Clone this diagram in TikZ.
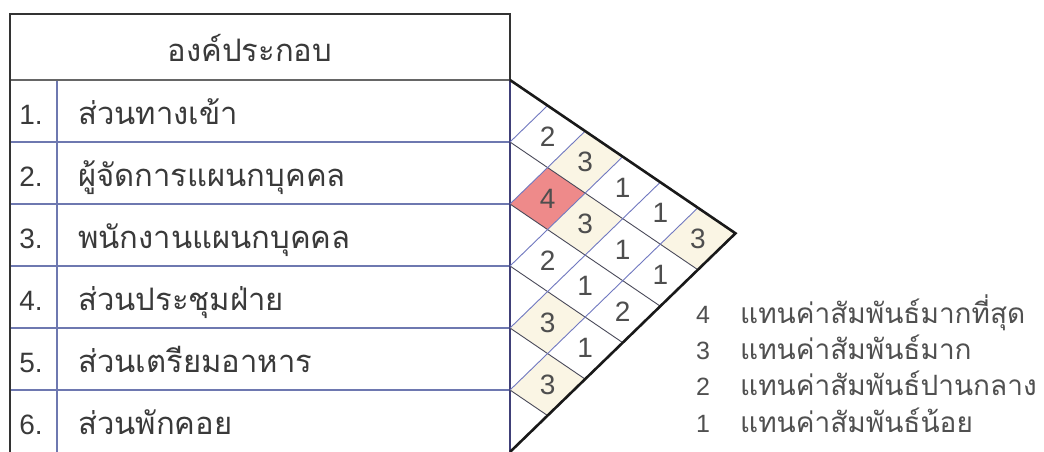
\documentclass[tikz,border=0pt]{standalone}
\usepackage{fontspec}
\setmainfont{Liberation Sans}
\newfontfamily\thaifont[Script=Thai]{Loma}
\usetikzlibrary{calc}
\definecolor{txtgray}{HTML}{3A3A3A}
\definecolor{leggray}{HTML}{505050}
\definecolor{rowblue}{HTML}{6E78B0}
\definecolor{navy}{HTML}{404078}
\definecolor{dgrid}{HTML}{4A4A5A}
\definecolor{ugrid}{HTML}{7078C0}
\definecolor{cream}{HTML}{FAF5E4}
\definecolor{redcell}{HTML}{EE8A8A}
\begin{document}
\begin{tikzpicture}[x=1pt,y=-1pt,
  outer/.style={draw=black!80,line width=2.6pt},
  rowline/.style={draw=rowblue,line width=1.1pt},
  hdrline/.style={draw=black!60,line width=1.4pt},
  tabtxt/.style={font=\thaifont\fontsize{31}{34}\selectfont,text=txtgray,inner sep=0pt,anchor=base west},
  numtxt/.style={font=\fontsize{28}{32}\selectfont,text=txtgray,inner sep=0pt,anchor=base},
  celltxt/.style={font=\fontsize{28}{30}\selectfont,text=txtgray!90,inner sep=0pt,anchor=center},
  legnum/.style={font=\fontsize{25}{28}\selectfont,text=leggray,inner sep=0pt,anchor=base},
  legtxt/.style={font=\thaifont\fontsize{28}{32}\selectfont,text=leggray,inner sep=0pt,anchor=base west},
  dline/.style={draw=dgrid,line width=0.9pt},
  uline/.style={draw=ugrid,line width=0.9pt},
  border/.style={draw=black!90,line width=2.6pt,line join=miter}]
\useasboundingbox (0,0) rectangle (1044,452);
\fill[white] (0,0) rectangle (1044,452);
% geometry of the skewed matrix
\def\sd{0.68}\def\su{0.97}
\pgfmathsetmacro\kk{62/(\sd+\su)}
\foreach \a in {0,...,6}{
  \foreach \c in {\a,...,6}{
    \coordinate (q\a-\c) at ({510+\kk*(\c-\a)},{80+62*\a+\sd*\kk*(\c-\a)});
  }
}
% table frame
\coordinate (tl) at (10,14);
\coordinate (tr) at (510,14);
\coordinate (hl) at (10,80);
\coordinate (hr) at (510,80);
\coordinate (bl) at (10,460);
\coordinate (br) at (510,460);
\foreach \k in {1,...,5}{
  \draw[rowline] (10,{80+62*\k}) -- (510,{80+62*\k});
}
\draw[rowline] (57,80) -- (57,460);
\draw[hdrline] (hl) -- (hr);
\draw[navy,line width=1.6pt] (hr) -- (br);
\draw[outer] (bl) -- (tl) -- (tr) -- (hr);
% header and rows
\node[tabtxt,anchor=base] (hdr) at (250,62) {องค์ประกอบ};
\foreach \k/\t in {1/ส่วนทางเข้า,2/ผู้จัดการแผนกบุคคล,3/พนักงานแผนกบุคคล,4/ส่วนประชุมฝ่าย,5/ส่วนเตรียมอาหาร,6/ส่วนพักคอย}{
  \node[numtxt] (n\k) at (31,{80+62*\k-18}) {\k.};
  \node[tabtxt] (t\k) at (78,{80+62*\k-18}) {\t};
}
% cells
\foreach \i/\j/\v/\f in {1/2/2/white,1/3/3/cream,1/4/1/white,1/5/1/white,1/6/3/cream,
  2/3/4/redcell,2/4/3/cream,2/5/1/white,2/6/1/white,
  3/4/2/white,3/5/1/white,3/6/2/white,
  4/5/3/cream,4/6/1/white,5/6/3/cream}{
  \pgfmathtruncatemacro\im{\i-1}
  \pgfmathtruncatemacro\jm{\j-1}
  \fill[\f] (q\i-\jm) -- (q\im-\jm) -- (q\im-\j) -- (q\i-\j) -- cycle;
  \node[celltxt] (c\i\j) at ($(q\im-\jm)!0.5!(q\i-\j)$) {\v};
}
% grid lines
\foreach \a in {1,...,5}{
  \draw[dline] (q\a-\a) -- (q\a-6);
  \draw[uline] (q\a-\a) -- (q0-\a);
}
\draw[border] (q0-0) -- (q0-6) -- (q6-6);
% legend
\foreach \k/\n/\t in {0/4/แทนค่าสัมพันธ์มากที่สุด,1/3/แทนค่าสัมพันธ์มาก,2/2/แทนค่าสัมพันธ์ปานกลาง,3/1/แทนค่าสัมพันธ์น้อย}{
  \node[legnum] (ln\n) at (703,{323+36.4*\k}) {\n};
  \node[legtxt] (lt\n) at (740,{323+36.4*\k}) {\t};
}
\end{tikzpicture}
\end{document}
